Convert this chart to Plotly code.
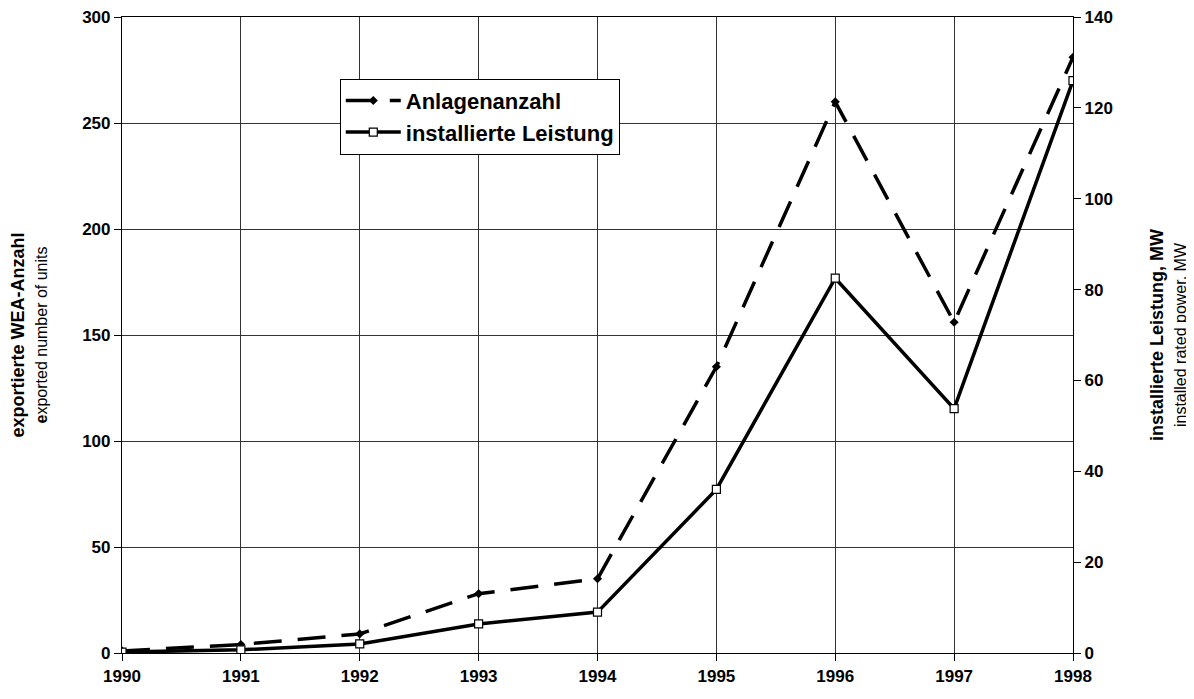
import plotly.graph_objects as go

years = [1990, 1991, 1992, 1993, 1994, 1995, 1996, 1997, 1998]
anlagen = [1, 4, 9, 28, 35, 135, 260, 156, 281]
leistung = [0.2, 0.7, 2.0, 6.4, 9.0, 36, 82.5, 53.8, 126]
year_labels = [str(y) for y in years]
left_ticks = [0, 50, 100, 150, 200, 250, 300]
right_ticks = [0, 20, 40, 60, 80, 100, 120, 140]

FONT = "Liberation Sans, Arial, sans-serif"

fig = go.Figure()
fig.add_trace(go.Scatter(
    x=years, y=anlagen, name="<b>Anlagenanzahl</b>", mode="lines+markers",
    line=dict(color="black", width=3.5, dash="28px,16px"),
    marker=dict(symbol="diamond", size=7, color="black"),
    yaxis="y",
))
fig.add_trace(go.Scatter(
    x=years, y=leistung, name="<b>installierte Leistung</b>", mode="lines+markers",
    line=dict(color="black", width=3.5),
    marker=dict(symbol="square", size=8, color="white", line=dict(color="black", width=1.2)),
    yaxis="y2",
))

axis_common = dict(
    showline=True, linecolor="black", linewidth=1.2,
    ticks="outside", ticklen=7, tickcolor="black", tickwidth=1,
    tickfont=dict(family=FONT, size=17, color="black"),
    zeroline=False, automargin=False, ticklabeloverflow="allow",
)

fig.update_layout(
    width=1184, height=683,
    margin=dict(l=114, r=119, t=9, b=38),
    paper_bgcolor="white", plot_bgcolor="white",
    font=dict(family=FONT, color="black"),
    showlegend=True,
    legend=dict(
        x=0.229, y=0.903, xanchor="left", yanchor="top",
        bgcolor="white", bordercolor="black", borderwidth=1,
        font=dict(family=FONT, size=22, color="black"),
        tracegroupgap=0, itemwidth=55,
    ),
    xaxis=dict(
        range=[1990, 1998], tickvals=years,
        ticktext=["<b>%s</b>" % t for t in year_labels],
        showgrid=True, gridcolor="#333333", gridwidth=1, mirror=True,
        **axis_common,
    ),
    yaxis=dict(
        range=[0, 300], tickvals=left_ticks,
        ticktext=["<b>%d</b>" % t for t in left_ticks],
        showgrid=True, gridcolor="#333333", gridwidth=1,
        title=dict(
            text="<b>exportierte WEA-Anzahl</b><br><span style='font-size:16px'><b>e</b>xported number of units</span>",
            font=dict(family=FONT, size=18, color="black"), standoff=38,
        ),
        **axis_common,
    ),
    yaxis2=dict(
        range=[0, 140], tickvals=right_ticks,
        ticktext=["<b>%d</b>" % t for t in right_ticks],
        overlaying="y", side="right",
        showgrid=False,
        title=dict(
            text="<b>installierte Leistung, MW</b><br><span style='font-size:16px'>installed rated power, MW</span>",
            font=dict(family=FONT, size=18, color="black"), standoff=38,
        ),
        **axis_common,
    ),
)

fig.write_html("out.html")
